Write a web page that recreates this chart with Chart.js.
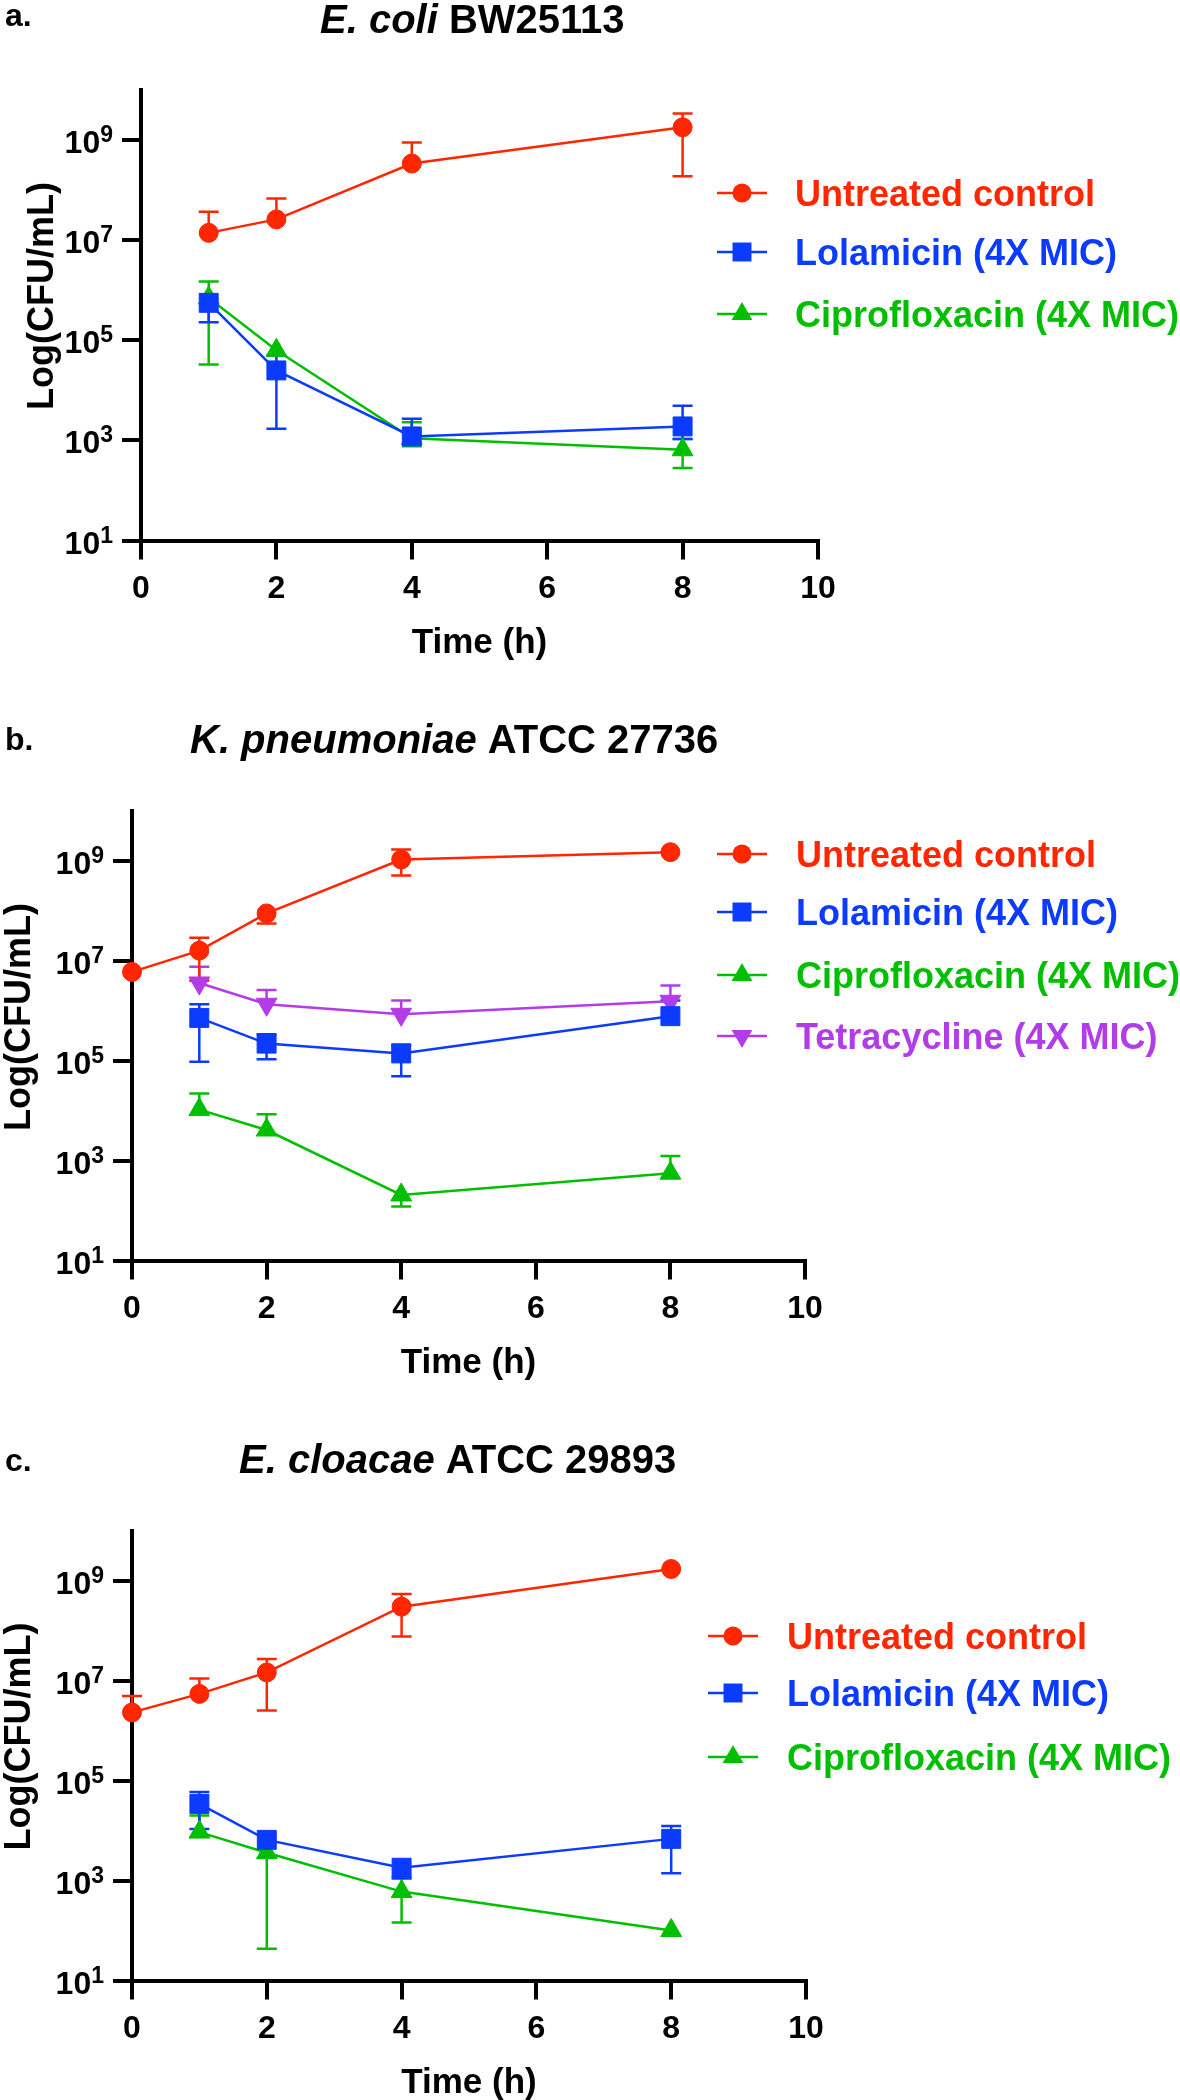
<!DOCTYPE html>
<html lang="en">
<head>
<meta charset="UTF-8">
<title>Time-kill curves</title>
<style>
  body { margin: 0; background: #fff; }
  canvas.panel { position: absolute; left: 0; }
</style>
<script src="https://cdn.jsdelivr.net/npm/chart.js"></script>
</head>
<body>
<canvas id="panelA" class="panel" width="1180" height="720" style="top:0px"></canvas>
<canvas id="panelB" class="panel" width="1180" height="720" style="top:720px"></canvas>
<canvas id="panelC" class="panel" width="1180" height="660" style="top:1440px"></canvas>
<script>
// axis ticks
const xTicks = [0, 2, 4, 6, 8, 10];
const yTickExponents = [1, 3, 5, 7, 9];

const labels = ['Untreated control', 'Lolamicin (4X MIC)', 'Ciprofloxacin (4X MIC)', 'Tetracycline (4X MIC)'];

// a. E. coli BW25113
const timesA = [1, 2, 4, 8];
const aControl = [1.4e7, 2.6e7, 3.4e8, 1.8e9];
const aControlHi = [3.7e7, 6.8e7, 8.9e8, 3.4e9];
const aControlLo = [null, null, null, 1.9e8];
const aLola = [5.6e5, 2.5e4, 1.2e3, 1.9e3];
const aLolaHi = [null, 4.9e4, 2.7e3, 4.9e3];
const aLolaLo = [2.3e5, 1.7e3, null, 1.07e3];
const aCipro = [7.0e5, 6.3e4, 1.1e3, 6.5e2];
const aCiproHi = [1.5e6, null, 2.3e3, 1.07e3];
const aCiproLo = [3.3e4, null, 7.6e2, 2.8e2];

// b. K. pneumoniae ATCC 27736
const timesB0 = [0, 1, 2, 4, 8];
const timesB = [1, 2, 4, 8];
const bControl = [6.0e6, 1.6e7, 8.9e7, 1.07e9, 1.5e9];
const bControlHi = [null, 2.9e7, null, 1.7e9, null];
const bControlLo = [null, 4.0e6, 5.6e7, 5.1e8, null];
const bLola = [7.2e5, 2.2e5, 1.4e5, 7.8e5];
const bLolaHi = [1.35e6, 3.4e5, 2.1e5, 1.6e6];
const bLolaLo = [9.5e4, 1.07e5, 4.9e4, null];
const bCipro = [1.05e4, 4.1e3, 2.05e2, 5.6e2];
const bCiproHi = [2.2e4, 8.5e3, null, 1.23e3];
const bCiproLo = [null, null, 1.2e2, null];
const bTetra = [3.6e6, 1.35e6, 8.5e5, 1.55e6];
const bTetraHi = [7.6e6, 2.6e6, 1.6e6, 3.2e6];
const bTetraLo = [null, null, null, null];

// c. E. cloacae ATCC 29893
const timesC0 = [0, 1, 2, 4, 8];
const timesC = [1, 2, 4, 8];
const cControl = [2.3e6, 5.4e6, 1.45e7, 3.0e8, 1.7e9];
const cControlHi = [4.9e6, 1.1e7, 2.7e7, 5.4e8, null];
const cControlLo = [null, null, 2.5e6, 7.6e7, null];
const cLola = [3.4e4, 6.5e3, 1.8e3, 6.8e3];
const cLolaHi = [5.9e4, null, null, 1.23e4];
const cLolaLo = [1.07e4, null, 1.1e3, 1.4e3];
const cCipro = [9.3e3, 3.6e3, 6.0e2, 1.0e2];
const cCiproHi = [2.0e4, null, 1.15e3, null];
const cCiproLo = [null, 43, 1.45e2, null];

const FONT = "'Liberation Sans', Arial, Helvetica, sans-serif";
const RED = '#FF2600';
const BLUE = '#0A3BFF';
const GREEN = '#00BF00';
const PURPLE = '#B23CE8';

const radii = { circle: 9.5, rect: 13.4, triangle: 12, down: 12 };

function series(label, times, values, hi, lo, color, kind) {
    return {
        label: label,
        data: times.map((t, i) => ({ x: t, y: values[i] })),
        errHi: hi,
        errLo: lo,
        kind: kind,
        borderColor: color,
        backgroundColor: color,
        pointBackgroundColor: color,
        pointBorderColor: color,
        pointStyle: kind === 'down' ? 'triangle' : kind,
        pointRotation: kind === 'down' ? 180 : 0,
        pointRadius: radii[kind],
        pointBorderWidth: 1,
        borderWidth: 2.5,
        tension: 0,
        clip: false
    };
}

// marker for the legend, same shapes as chart.js point styles
function drawMarker(ctx, kind, x, y, color) {
    const r = radii[kind];
    ctx.fillStyle = color;
    ctx.beginPath();
    if (kind === 'circle') {
        ctx.arc(x, y, r, 0, Math.PI * 2);
    } else if (kind === 'rect') {
        const s = r * Math.SQRT1_2;
        ctx.rect(x - s, y - s, 2 * s, 2 * s);
    } else {
        let a = kind === 'down' ? Math.PI : 0;
        for (let k = 0; k < 3; k++) {
            const px = x + Math.sin(a) * r, py = y - Math.cos(a) * r;
            if (k === 0) ctx.moveTo(px, py); else ctx.lineTo(px, py);
            a += Math.PI * 2 / 3;
        }
        ctx.closePath();
    }
    ctx.fill();
}

// error bars (drawn under the markers)
const errorBars = {
    id: 'errorBars',
    beforeDatasetsDraw(chart) {
        const ctx = chart.ctx;
        const yScale = chart.scales.y;
        for (let di = chart.data.datasets.length - 1; di >= 0; di--) {
            const ds = chart.data.datasets[di];
            const meta = chart.getDatasetMeta(di);
            ctx.save();
            ctx.strokeStyle = ds.borderColor;
            ctx.lineWidth = 2.5;
            meta.data.forEach((pt, i) => {
                [ds.errHi[i], ds.errLo[i]].forEach(v => {
                    if (v == null) return;
                    const y = yScale.getPixelForValue(v);
                    ctx.beginPath();
                    ctx.moveTo(pt.x, pt.y);
                    ctx.lineTo(pt.x, y);
                    ctx.moveTo(pt.x - 10, y);
                    ctx.lineTo(pt.x + 10, y);
                    ctx.stroke();
                });
            });
            ctx.restore();
        }
    }
};

// tick labels with exponents, axis titles, panel title and legend
const decor = {
    id: 'decor',
    afterDraw(chart, args, opts) {
        const ctx = chart.ctx;
        const area = chart.chartArea;
        const yScale = chart.scales.y;
        ctx.save();
        ctx.fillStyle = '#000';
        ctx.textBaseline = 'alphabetic';

        yTickExponents.forEach(e => {
            const py = yScale.getPixelForValue(Math.pow(10, e));
            const right = area.left - 28;
            ctx.textAlign = 'right';
            ctx.font = 'bold 23px ' + FONT;
            const supW = ctx.measureText(String(e)).width;
            ctx.fillText(String(e), right, py + 2);
            ctx.font = 'bold 32px ' + FONT;
            ctx.fillText('10', right - supW, py + 13);
        });

        // x title
        ctx.textAlign = 'center';
        ctx.font = 'bold 35px ' + FONT;
        ctx.fillText('Time (h)', (area.left + area.right) / 2, area.bottom + 112);

        // y title
        ctx.save();
        ctx.translate(opts.yTitleX, area.top + 206);
        ctx.rotate(-Math.PI / 2);
        ctx.textBaseline = 'middle';
        ctx.font = 'bold 36px ' + FONT;
        ctx.fillText('Log(CFU/mL)', 0, 0);
        ctx.restore();

        // panel letter and title
        ctx.textAlign = 'left';
        ctx.font = 'bold 32px ' + FONT;
        ctx.fillText(opts.letter, 5, opts.letterY);
        ctx.font = 'italic bold 40px ' + FONT;
        ctx.fillText(opts.titleItalic, opts.titleX, 32.5);
        const w = ctx.measureText(opts.titleItalic).width;
        ctx.font = 'bold 40px ' + FONT;
        ctx.fillText(opts.titleRest, opts.titleX + w, 32.5);

        // legend
        chart.data.datasets.forEach((ds, i) => {
            const y = opts.legendY[i];
            const mx = opts.legendX;
            ctx.strokeStyle = ds.borderColor;
            ctx.lineWidth = 2.5;
            ctx.beginPath();
            ctx.moveTo(mx - 25, y);
            ctx.lineTo(mx + 25, y);
            ctx.stroke();
            drawMarker(ctx, ds.kind, mx, y, ds.borderColor);
            ctx.fillStyle = ds.borderColor;
            ctx.font = 'bold 36px ' + FONT;
            ctx.fillText(ds.label, opts.textX, y + 13);
        });
        ctx.restore();
    }
};

function makePanel(id, datasets, cfg) {
    const axisGrid = { drawOnChartArea: false, tickLength: 19, tickWidth: 4, tickColor: '#000', lineWidth: 4, color: '#000' };
    const axisBorder = { display: true, width: 4, color: '#000' };
    return new Chart(document.getElementById(id), {
        type: 'line',
        data: { datasets: datasets },
        plugins: [errorBars, decor],
        options: {
            responsive: false,
            animation: false,
            events: [],
            layout: { padding: { top: cfg.top, right: cfg.right, bottom: 0, left: 0 } },
            plugins: {
                legend: { display: false },
                tooltip: { enabled: false },
                decor: cfg
            },
            scales: {
                x: {
                    type: 'linear',
                    min: 0,
                    max: 10,
                    afterBuildTicks: s => { s.ticks = xTicks.map(v => ({ value: v })); },
                    afterFit: s => { s.height = cfg.xHeight; },
                    grid: axisGrid,
                    border: axisBorder,
                    ticks: { color: '#000', padding: 10, font: { family: FONT, size: 32, weight: 'bold' } }
                },
                y: {
                    type: 'logarithmic',
                    min: 10,
                    max: 1e10,
                    afterBuildTicks: s => { s.ticks = yTickExponents.map(e => ({ value: Math.pow(10, e) })); },
                    afterFit: s => { s.width = cfg.yWidth; },
                    grid: axisGrid,
                    border: axisBorder,
                    ticks: { display: false }
                }
            }
        }
    });
}

makePanel('panelA', [
    series(labels[0], timesA, aControl, aControlHi, aControlLo, RED, 'circle'),
    series(labels[1], timesA, aLola, aLolaHi, aLolaLo, BLUE, 'rect'),
    series(labels[2], timesA, aCipro, aCiproHi, aCiproLo, GREEN, 'triangle')
], {
    top: 90, right: 362, yWidth: 141, xHeight: 179.5,
    letter: 'a.', letterY: 26, titleItalic: 'E. coli', titleRest: ' BW25113', titleX: 320,
    yTitleX: 43, legendX: 742, textX: 795, legendY: [193, 252, 314]
});

makePanel('panelB', [
    series(labels[0], timesB0, bControl, bControlHi, bControlLo, RED, 'circle'),
    series(labels[1], timesB, bLola, bLolaHi, bLolaLo, BLUE, 'rect'),
    series(labels[2], timesB, bCipro, bCiproHi, bCiproLo, GREEN, 'triangle'),
    series(labels[3], timesB, bTetra, bTetraHi, bTetraLo, PURPLE, 'down')
], {
    top: 91, right: 375, yWidth: 132, xHeight: 179.5,
    letter: 'b.', letterY: 30, titleItalic: 'K. pneumoniae', titleRest: ' ATCC 27736', titleX: 190,
    yTitleX: 20, legendX: 742, textX: 796, legendY: [134, 192, 255, 316]
});

makePanel('panelC', [
    series(labels[0], timesC0, cControl, cControlHi, cControlLo, RED, 'circle'),
    series(labels[1], timesC, cLola, cLolaHi, cLolaLo, BLUE, 'rect'),
    series(labels[2], timesC, cCipro, cCiproHi, cCiproLo, GREEN, 'triangle')
], {
    top: 90.5, right: 374, yWidth: 132, xHeight: 119.5,
    letter: 'c.', letterY: 31, titleItalic: 'E. cloacae', titleRest: ' ATCC 29893', titleX: 239,
    yTitleX: 20, legendX: 733, textX: 787, legendY: [196, 253, 317]
});
</script>
</body>
</html>
